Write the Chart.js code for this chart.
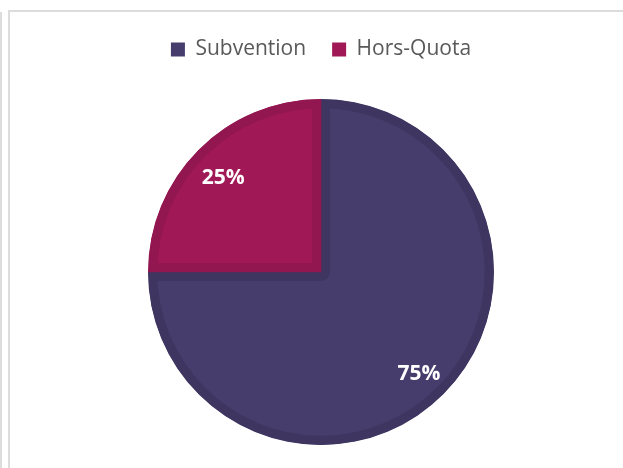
<!DOCTYPE html>
<html>
<head>
<meta charset="utf-8">
<script src="https://cdn.jsdelivr.net/npm/chart.js@4"></script>
<style>
  html, body { margin: 0; padding: 0; background: #fff; }
  #wrap { position: relative; width: 623px; height: 468px; overflow: hidden; }
  .ln { position: absolute; background: #dcdcdc; }
  canvas { position: absolute; left: 0; top: 0; }
</style>
</head>
<body>
<div id="wrap">
  <div class="ln" style="left:9px; top:10px; width:620px; height:2px;"></div>
  <div class="ln" style="left:8px; top:10px; width:2px; height:460px;"></div>
  <div class="ln" style="left:0px; top:12px; width:2px; height:460px;"></div>
  <canvas id="pieChart" width="623" height="468"></canvas>
</div>
<script>
// data
const categories = ['Subvention', 'Hors-Quota'];
const shares = [75, 25];
const sliceLabels = ['75%', '25%'];
const fills = ['#463d6d', '#a01856'];
const rims = ['#3e3661', '#921650'];

// plot box of the pie (square around the circle)
const plotBox = { left: 148, top: 99, size: 346 };

const fixArea = {
  id: 'fixArea',
  afterLayout(chart) {
    const a = chart.chartArea;
    a.left = plotBox.left;
    a.top = plotBox.top;
    a.right = plotBox.left + plotBox.size;
    a.bottom = plotBox.top + plotBox.size;
    a.width = plotBox.size;
    a.height = plotBox.size;
  }
};

// white % labels inside each slice
const sliceText = {
  id: 'sliceText',
  afterDatasetsDraw(chart) {
    const ctx = chart.ctx;
    const meta = chart.getDatasetMeta(0);
    ctx.save();
    ctx.fillStyle = '#ffffff';
    ctx.font = 'bold 21px "Open Sans"';
    ctx.textAlign = 'center';
    ctx.textBaseline = 'middle';
    meta.data.forEach((arc, i) => {
      const p = arc.getProps(['x', 'y', 'startAngle', 'endAngle', 'outerRadius'], true);
      const mid = (p.startAngle + p.endAngle) / 2;
      const r = p.outerRadius * 0.8;
      ctx.fillText(sliceLabels[i], p.x + Math.cos(mid) * r, p.y + Math.sin(mid) * r + 4);
    });
    ctx.restore();
  }
};

const ctx = document.getElementById('pieChart').getContext('2d');
new Chart(ctx, {
  type: 'pie',
  data: {
    labels: categories,
    datasets: [{
      data: shares,
      backgroundColor: fills,
      borderColor: rims,
      borderWidth: 9,
      borderAlign: 'inner',
      hoverBorderWidth: 9
    }]
  },
  options: {
    responsive: false,
    animation: false,
    layout: { padding: { top: 13, left: 19, right: 0, bottom: 0 } },
    plugins: {
      tooltip: { enabled: false },
      legend: {
        position: 'top',
        labels: {
          boxWidth: 14,
          boxHeight: 14,
          padding: 26,
          color: '#595959',
          font: { family: '"Open Sans"', size: 21 },
          generateLabels: () => categories.map((c, i) => ({
            text: c,
            fillStyle: fills[i],
            strokeStyle: fills[i],
            lineWidth: 0,
            fontColor: '#595959',
            index: i
          }))
        }
      }
    }
  },
  plugins: [fixArea, sliceText]
});
</script>
</body>
</html>
